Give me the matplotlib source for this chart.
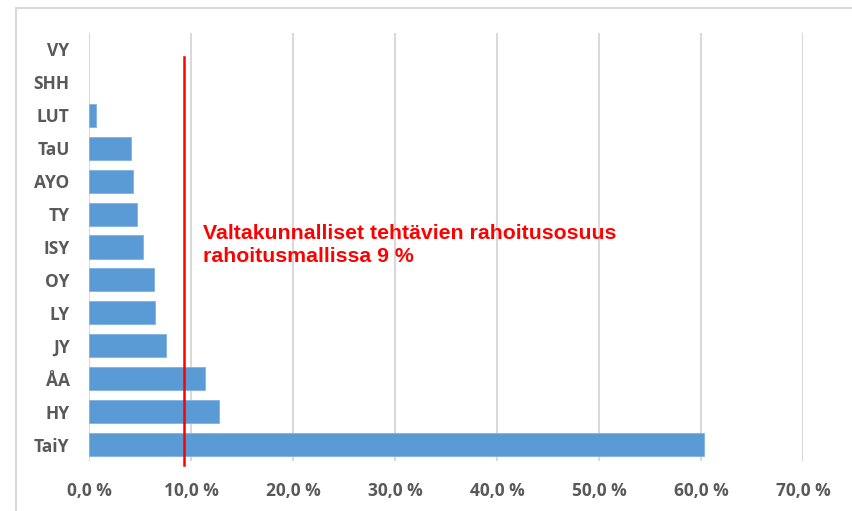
import matplotlib.pyplot as plt
from matplotlib.patches import Rectangle
from matplotlib.ticker import FuncFormatter

# data, top to bottom as in the chart
labels = ['VY', 'SHH', 'LUT', 'TaU', 'AYO', 'TY', 'ISY', 'OY', 'LY', 'JY', 'ÅA', 'HY', 'TaiY']
values = [0.0, 0.0, 0.7, 4.1, 4.3, 4.7, 5.3, 6.4, 6.5, 7.5, 11.4, 12.7, 60.3]
ref_value = 9.3
ref_text = 'Valtakunnalliset tehtävien rahoitusosuus\nrahoitusmallissa 9 %'
xticks = [0, 10, 20, 30, 40, 50, 60, 70]

gray = '#595959'
fig = plt.figure(figsize=(8.52, 5.11), dpi=100)
ax = fig.add_axes([89/852, 1-461/511, (803-89)/852, (461-33)/511])

# outer light frame
fig.patches.append(Rectangle((16/852, -0.1), 1.2, 1.1 - 8/511, transform=fig.transFigure,
                             fill=False, edgecolor='#d9d9d9', linewidth=1.5, zorder=0))

ypos = list(range(len(labels)))[::-1]
widths = [0.6 if v > 0 else 0 for v in values]
ax.barh(ypos, values, height=0.7, color='#5b9bd5', edgecolor='#7fb2e0', linewidth=widths, zorder=2)

ax.set_xlim(0, 70)
ax.set_ylim(-0.5, len(labels) - 0.5)
ax.set_xticks(xticks)
ax.xaxis.set_major_formatter(FuncFormatter(lambda v, p: f'{v:.1f}'.replace('.', ',') + ' %'))
ax.set_yticks(ypos)
ax.set_yticklabels(labels)
ax.grid(axis='x', color='#d9d9d9', linewidth=1.5, zorder=0)
for s in ax.spines.values():
    s.set_visible(False)
ax.tick_params(length=0, labelcolor=gray, labelsize=12.5)
ax.tick_params(axis='x', pad=15)
ax.tick_params(axis='y', pad=14)
for t in ax.get_xticklabels() + ax.get_yticklabels():
    t.set_fontweight('bold')
    t.set_family('Open Sans')

# red reference line
ax.axvline(ref_value, ymin=-0.009, ymax=0.944, color='red', linewidth=1.8, zorder=3, clip_on=False)
ax.text(11.2, 6.06, ref_text, color='red', fontsize=15.3, fontweight='bold',
        family='Liberation Sans', va='center', ha='left', linespacing=1.32)

fig.savefig('out.png', dpi=100)
